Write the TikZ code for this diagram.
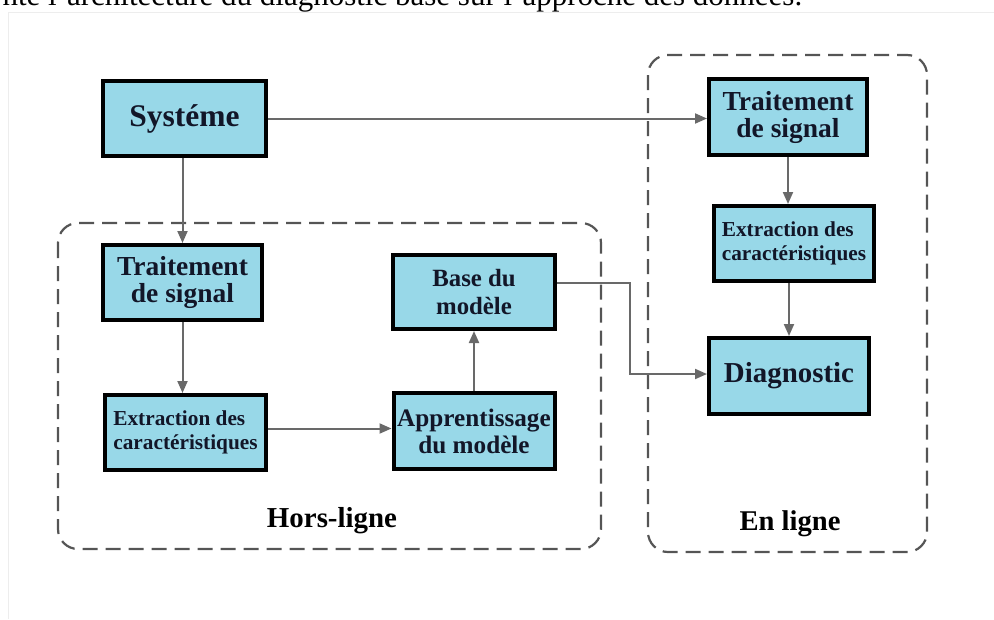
\documentclass[tikz,border=0pt]{standalone}
\usepackage{fontspec}
\setmainfont{Liberation Serif}
\usepackage{tikz}
\usetikzlibrary{arrows.meta}
\definecolor{boxblue}{RGB}{152,216,232}
\definecolor{txt}{RGB}{18,22,40}
\definecolor{conngray}{RGB}{105,105,105}
\definecolor{framegray}{RGB}{85,85,85}

\begin{document}
\begin{tikzpicture}[x=1pt,y=-1pt,
	bloc/.style={draw=black,line width=4pt,fill=boxblue,text=txt,font=\bfseries,align=center,inner sep=0pt},
	conn/.style={draw=conngray,line width=2pt,-{Triangle[length=12pt,width=10pt]}},
	zone/.style={draw=framegray,line width=2.2pt,dash pattern=on 15pt off 8pt,rounded corners=20pt}]
	\useasboundingbox (0,0) rectangle (994,619);
	\draw[black!7,line width=1pt] (8,619) |- (994,12);
	\node[anchor=base west,text=black,font=\fontsize{31}{33}\selectfont] (titre) at (-1,5) {nte l’architecture du diagnostic basé sur l’approche des données.};

	\draw[zone] (58,223) rectangle (601,549);
	\draw[zone] (648,55) rectangle (927,552);
	\node[anchor=base,text=black,font=\bfseries\fontsize{28.9}{30}\selectfont] (hors) at (332,527) {Hors-ligne};
	\node[anchor=base,text=black,font=\bfseries\fontsize{28.6}{30}\selectfont] (enligne) at (790,530) {En ligne};

	\node[bloc,minimum width=163pt,minimum height=75pt,font=\bfseries\fontsize{31.5}{33}\selectfont] (sys) at (184.5,118.5) {Systéme};
	\node[bloc,minimum width=159pt,minimum height=75pt,font=\bfseries\fontsize{27.5}{27}\selectfont] (tsL) at (182.5,282.5) {Traitement\\de signal};
	\node[bloc,minimum width=161pt,minimum height=75pt,font=\bfseries\fontsize{21.3}{24}\selectfont] (exL) at (185.5,432.5) {\begin{tabular}{@{}l@{}}Extraction des\\caractéristiques\end{tabular}};
	\node[bloc,minimum width=162pt,minimum height=74pt,font=\bfseries\fontsize{24.8}{28}\selectfont] (base) at (474,292) {Base du\\modèle};
	\node[bloc,minimum width=161pt,minimum height=76pt,font=\bfseries\fontsize{25.2}{27}\selectfont] (app) at (474,431) {Apprentissage\\du modèle};
	\node[bloc,minimum width=158pt,minimum height=76pt,font=\bfseries\fontsize{27.5}{27}\selectfont] (tsR) at (788,117) {Traitement\\de signal};
	\node[bloc,minimum width=160pt,minimum height=75pt,font=\bfseries\fontsize{21.3}{24}\selectfont] (exR) at (794,243.5) {\begin{tabular}{@{}l@{}}Extraction des\\caractéristiques\end{tabular}};
	\node[bloc,minimum width=160pt,minimum height=76pt,font=\bfseries\fontsize{28.9}{30}\selectfont] (diag) at (789,376) {Diagnostic};

	\draw[conn] (sys.east) -- (sys.east -| tsR.west);
	\draw[conn] (tsL.north |- sys.south) -- (tsL.north);
	\draw[conn] (tsL.south) -- (tsL.south |- exL.north);
	\draw[conn] ([yshift=4pt]exL.east) -- ([yshift=4pt]exL.east -| app.west);
	\draw[conn] (app.north) -- (base.south);
	\draw[conn] ([yshift=9pt]base.east) -| ([xshift=-77pt,yshift=2pt]diag.west) -- ([yshift=2pt]diag.west);
	\draw[conn] (tsR.south) -- (tsR.south |- exR.north);
	\draw[conn] (diag.north |- exR.south) -- (diag.north);
\end{tikzpicture}
\end{document}
